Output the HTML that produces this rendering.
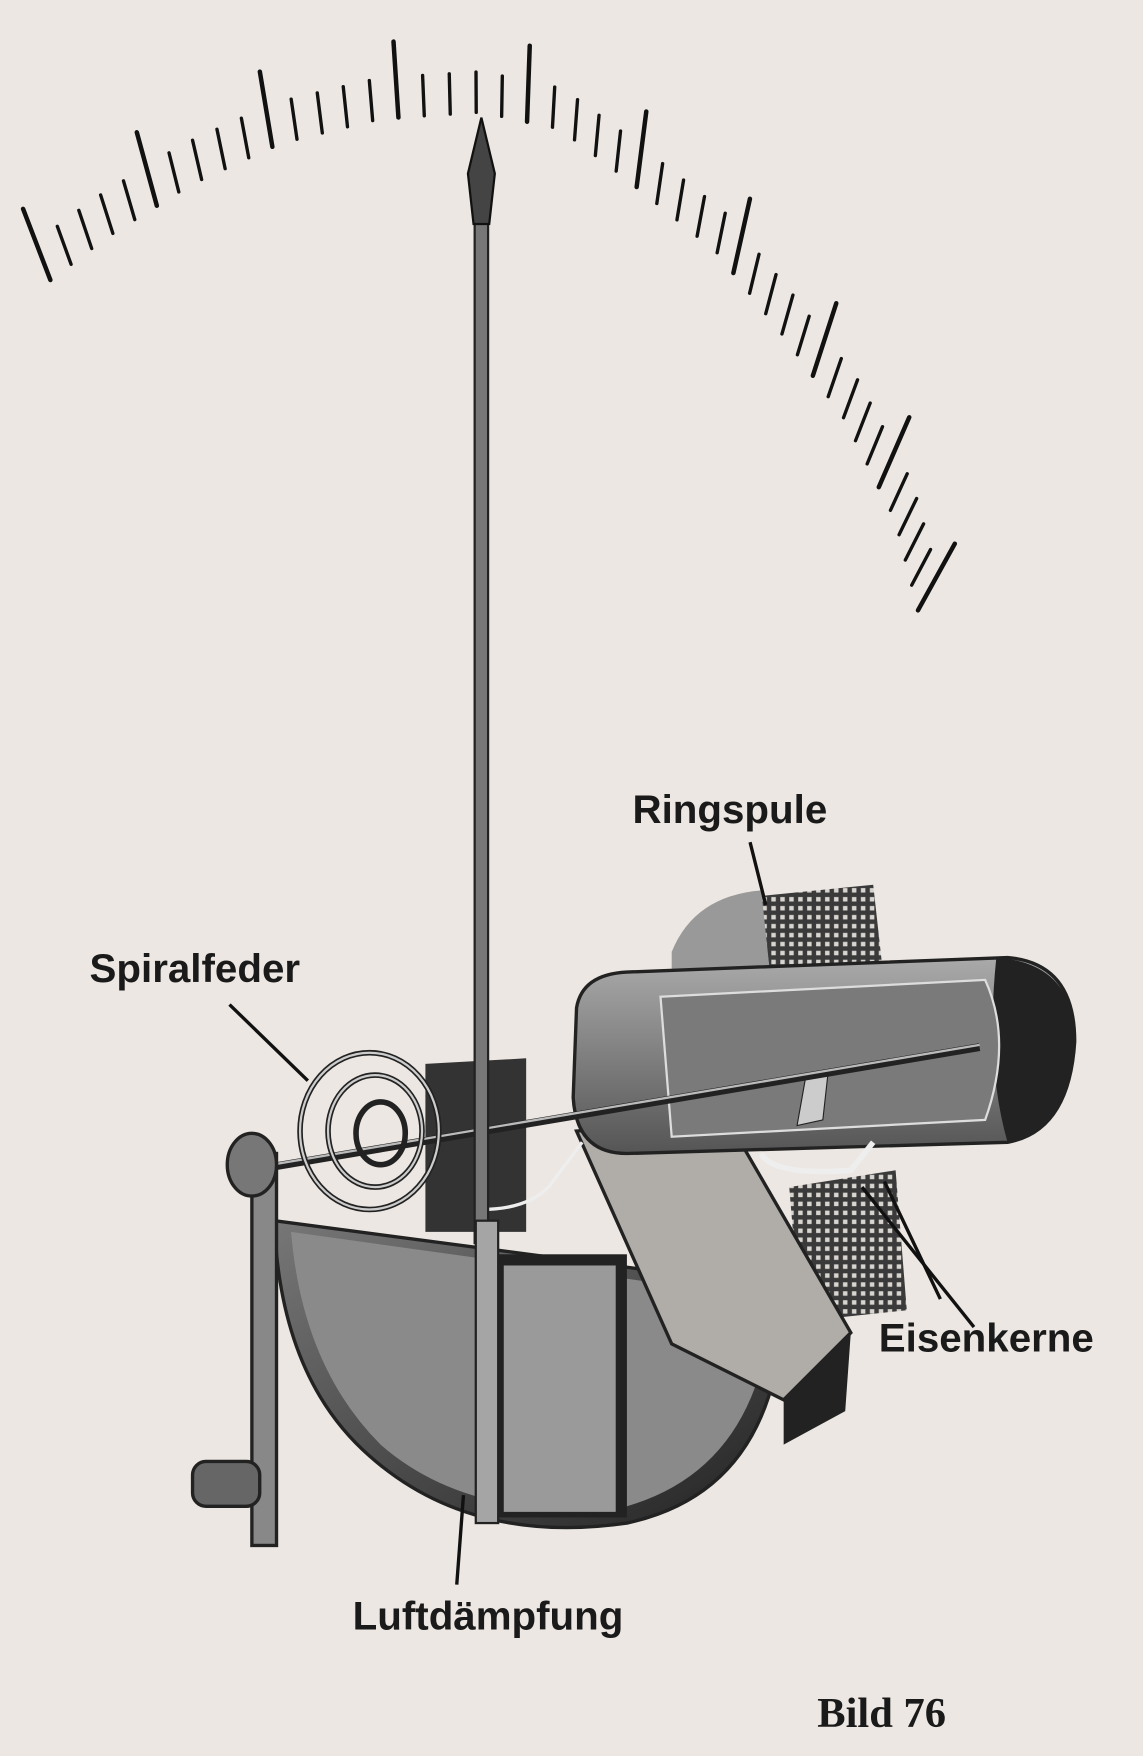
<!DOCTYPE html>
<html><head><meta charset="utf-8"><style>
html,body{margin:0;padding:0;background:#ece7e2}
svg{display:block}
text{font-family:"Liberation Sans",sans-serif;font-weight:bold;fill:#1a1a1a}
</style></head><body>
<svg id="s" width="1143" height="1756" viewBox="0 0 1021 1568" preserveAspectRatio="none" xmlns="http://www.w3.org/2000/svg">
<defs>
<pattern id="mesh" width="8" height="8" patternUnits="userSpaceOnUse">
<rect width="8" height="8" fill="#3a3a3a"/><rect x="1" y="1" width="4" height="4" fill="#d8d4d0"/>
</pattern>
<linearGradient id="dk" x1="0" y1="0" x2="1" y2="1"><stop offset="0" stop-color="#777"/><stop offset="1" stop-color="#222"/></linearGradient>
<linearGradient id="cy" x1="0" y1="0" x2="0" y2="1"><stop offset="0" stop-color="#aaa"/><stop offset="1" stop-color="#555"/></linearGradient>
</defs>
<rect width="1021" height="1568" fill="#ece7e2"/>
<g id="ticks" stroke="#111" stroke-linecap="round"></g>
<!-- Ringspule mesh -->
<path d="M680,800 L780,790 L790,880 L690,890 Z" fill="url(#mesh)"/>
<path d="M600,850 Q620,800 680,795 L690,890 L600,900 Z" fill="#999"/>
<path d="M705,1060 L800,1045 L810,1170 L715,1180 Z" fill="url(#mesh)"/>
<!-- damping half disc -->
<path d="M245,1090 L700,1150 Q700,1330 560,1360 Q420,1380 330,1300 Q250,1230 245,1090 Z" fill="url(#dk)" stroke="#222" stroke-width="3"/>
<path d="M260,1100 L690,1160 Q680,1310 560,1345 Q420,1360 340,1290 Q270,1220 260,1100 Z" fill="#8a8a8a"/>
<path d="M380,950 L470,945 L470,1100 L380,1100 Z" fill="#333"/>
<!-- inner box -->
<rect x="440" y="1120" width="120" height="235" fill="#222"/>
<rect x="450" y="1130" width="100" height="220" fill="#9a9a9a"/>
<!-- vane -->
<path d="M515,1010 L650,1000 L760,1190 L700,1250 L600,1200 Z" fill="#b0aca8" stroke="#222" stroke-width="3"/>
<path d="M700,1250 L760,1190 L755,1260 L700,1290 Z" fill="#222"/>
<!-- cylinder housing -->
<path d="M515,900 Q520,870 560,868 L900,855 Q960,860 960,930 Q955,1010 900,1020 L560,1030 Q515,1030 512,980 Z" fill="url(#cy)" stroke="#222" stroke-width="3"/>
<path d="M890,855 Q960,860 960,930 Q955,1010 900,1020 Q880,950 890,855 Z" fill="#222"/>
<path d="M590,890 L880,875 Q905,930 880,1000 L600,1015 Z" fill="#7a7a7a" stroke="#ddd" stroke-width="2"/>
<path d="M720,960 L740,955 L735,1000 L712,1005 Z" fill="#ccc" stroke="#222"/>
<path d="M680,1030 Q690,1050 760,1045 L780,1020" fill="none" stroke="#eee" stroke-width="5"/>
<path d="M430,1080 Q470,1080 490,1060 L520,1020" fill="none" stroke="#eee" stroke-width="3"/>
<!-- shaft -->
<line x1="225" y1="1045" x2="875" y2="935" stroke="#222" stroke-width="7"/>
<line x1="225" y1="1043" x2="875" y2="933" stroke="#bbb" stroke-width="2"/>
<!-- spiral -->
<g fill="none" stroke="#222" stroke-width="5">
<ellipse cx="330" cy="1010" rx="62" ry="70"/>
<ellipse cx="335" cy="1010" rx="42" ry="50"/>
<ellipse cx="340" cy="1012" rx="22" ry="28"/>
</g>
<g fill="none" stroke="#ccc" stroke-width="2">
<ellipse cx="330" cy="1010" rx="62" ry="70"/>
<ellipse cx="335" cy="1010" rx="42" ry="50"/>
</g>
<!-- post -->
<rect x="225" y="1030" width="22" height="350" fill="#888" stroke="#222" stroke-width="3"/>
<ellipse cx="225" cy="1040" rx="22" ry="28" fill="#777" stroke="#222" stroke-width="3"/>
<rect x="172" y="1305" width="60" height="40" rx="12" fill="#666" stroke="#222" stroke-width="3"/>
<!-- needle -->
<rect x="424" y="190" width="12" height="920" fill="#777" stroke="#222" stroke-width="2"/>
<path d="M430,105 L442,155 L437,200 L423,200 L418,155 Z" fill="#444" stroke="#111" stroke-width="2"/>
<rect x="425" y="1090" width="20" height="270" fill="#a5a5a5" stroke="#222" stroke-width="2"/>
<!-- leaders -->
<g stroke="#111" stroke-width="3" fill="none">
<line x1="205" y1="897" x2="275" y2="965"/>
<line x1="670" y1="752" x2="684" y2="808"/>
<line x1="870" y1="1185" x2="770" y2="1060"/>
<line x1="840" y1="1160" x2="790" y2="1055"/>
<line x1="408" y1="1415" x2="414" y2="1335"/>
</g>
<text x="565" y="735" font-size="36">Ringspule</text>
<text x="80" y="877" font-size="36">Spiralfeder</text>
<text x="785" y="1207" font-size="36">Eisenkerne</text>
<text x="315" y="1455" font-size="36">Luftdämpfung</text>
<text x="730" y="1542" font-size="38" style="font-family:'Liberation Serif',serif;font-weight:bold">Bild 76</text>
</svg>
<script>
var pts=[[45,250],[95,212],[170,165],[250,128],[340,106],[430,100],[500,115],[560,160],[640,225],[700,300],[755,375],[800,465],[820,545]];
var cum=[0];for(var i=1;i<pts.length;i++)cum.push(cum[i-1]+Math.hypot(pts[i][0]-pts[i-1][0],pts[i][1]-pts[i-1][1]));
var T=cum[cum.length-1];
function at(s){for(var i=1;i<pts.length;i++){if(s<=cum[i]+1e-6){var f=(s-cum[i-1])/(cum[i]-cum[i-1]);return [pts[i-1][0]+f*(pts[i][0]-pts[i-1][0]),pts[i-1][1]+f*(pts[i][1]-pts[i-1][1])];}}return pts[pts.length-1];}
var N=45,out='',cx=430,cy=1250;
for(var k=0;k<=N;k++){var p=at(T*k/N),dx=p[0]-cx,dy=p[1]-cy,l=Math.hypot(dx,dy);
var maj=(k%5==0),L=maj?68:36,w=maj?4:3;
out+='<line x1="'+p[0].toFixed(1)+'" y1="'+p[1].toFixed(1)+'" x2="'+(p[0]+dx/l*L).toFixed(1)+'" y2="'+(p[1]+dy/l*L).toFixed(1)+'" stroke-width="'+w+'"/>';}
document.getElementById('ticks').innerHTML=out;
</script>
</body></html>
